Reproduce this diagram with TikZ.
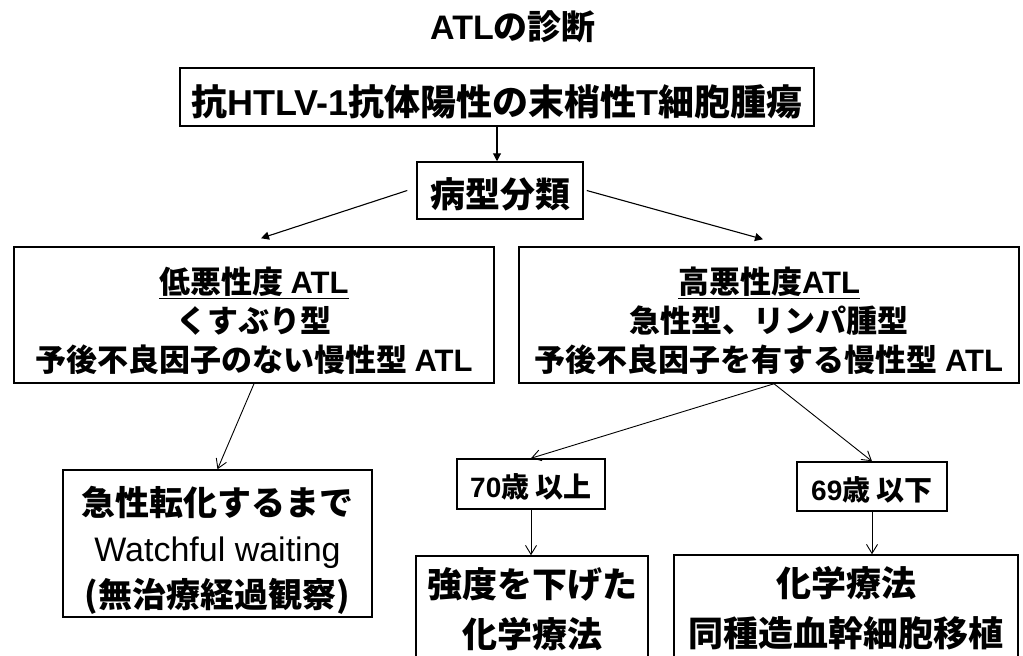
\documentclass[tikz,border=0pt]{standalone}
\usepackage{fontspec}
\setmainfont{Noto Sans CJK JP}
\newfontfamily\lat{Liberation Sans}
\usetikzlibrary{arrows.meta}
\newcommand{\fsz}[2]{\bfseries\fontsize{#1}{#2}\selectfont}
\begin{document}
\begin{tikzpicture}[x=1pt,y=-1pt,
  box/.style={draw=black, line width=1.5pt, inner sep=0pt},
  txt/.style={inner sep=0pt, align=center},
  arrf/.style={-{Triangle[length=8pt,width=8pt]}, line width=1.1pt},
  arrb/.style={-{Straight Barb[length=9pt,width=11pt]}, line width=0.9pt},
  ]
\useasboundingbox (0,0) rectangle (1023,656);
\fill[white] (0,0) rectangle (1023,656);
\clip (0,0) rectangle (1023,656);

\node[font=\fsz{34}{38}] (title) at (513,27) {{\lat ATL}の診断};

\node[box, minimum width=634pt, minimum height=58pt] (b1) at (497,97) {};
\node[txt, font=\fsz{36}{40}] (b1t) at ([yshift=-5pt]b1.center)
  {抗{\lat HTLV-1}抗体陽性の末梢性{\lat T}細胞腫瘍};
\node[box, minimum width=166pt, minimum height=57pt] (b2) at (500,190.5) {};
\node[txt, font=\fsz{35}{40}] (b2t) at ([yshift=-4pt]b2.center) {病型分類};
\node[box, minimum width=480pt, minimum height=136pt] (b3) at (254,315) {};
\node[txt, font=\fsz{31}{39}] (b3t) at ([yshift=-6pt]b3.center)
  {\underline{低悪性度 {\lat ATL}}\\くすぶり型\\予後不良因子のない慢性型 {\lat ATL}};
\node[box, minimum width=500pt, minimum height=136pt] (b4) at (769,315) {};
\node[txt, font=\fsz{31}{39}] (b4t) at ([yshift=-6pt]b4.center)
  {\underline{高悪性度{\lat ATL}}\\急性型、リンパ腫型\\予後不良因子を有する慢性型 {\lat ATL}};
\node[box, minimum width=309pt, minimum height=147pt] (b5) at (217.5,543.5) {};
\node[txt, font=\fsz{34}{46}] (b5t) at ([yshift=-7pt]b5.center)
  {急性転化するまで\\{\lat\mdseries Watchful waiting}\\(無治療経過観察)};
\node[box, minimum width=148pt, minimum height=50pt] (b6) at (531,484) {};
\node[txt, font=\fsz{28}{30}] (b6t) at ([yshift=-3pt]b6.center) {{\lat 70}歳 以上};
\node[box, minimum width=150pt, minimum height=49pt] (b7) at (872,486.5) {};
\node[txt, font=\fsz{28}{30}] (b7t) at ([yshift=-3pt]b7.center) {{\lat 69}歳 以下};
\node[box, minimum width=232pt, minimum height=106pt] (b8) at (532,609) {};
\node[txt, font=\fsz{35}{50}] (b8t) at (b8.center) {強度を下げた\\化学療法};
\node[box, minimum width=344pt, minimum height=107pt] (b9) at (846,608.5) {};
\node[txt, font=\fsz{35}{50}] (b9t) at (b9.center) {化学療法\\同種造血幹細胞移植};

\draw[arrf] (b1.south) -- (b1.south |- b2.north);
\draw[arrf] ([xshift=-9pt]b2.west) -- ([xshift=7pt,yshift=8pt]b3.north);
\draw[arrf] ([xshift=3pt]b2.east) -- ([xshift=-6pt,yshift=7pt]b4.north);
\draw[arrb] (b3.south) -- (b5.north);
\draw[arrb] ([xshift=5pt]b4.south) -- (b6.north);
\draw[arrb] ([xshift=5pt]b4.south) -- (b7.north);
\draw[arrb] (b6.south) -- (b6.south |- b8.north);
\draw[arrb] (b7.south) -- (b7.south |- b9.north);
\end{tikzpicture}
\end{document}
